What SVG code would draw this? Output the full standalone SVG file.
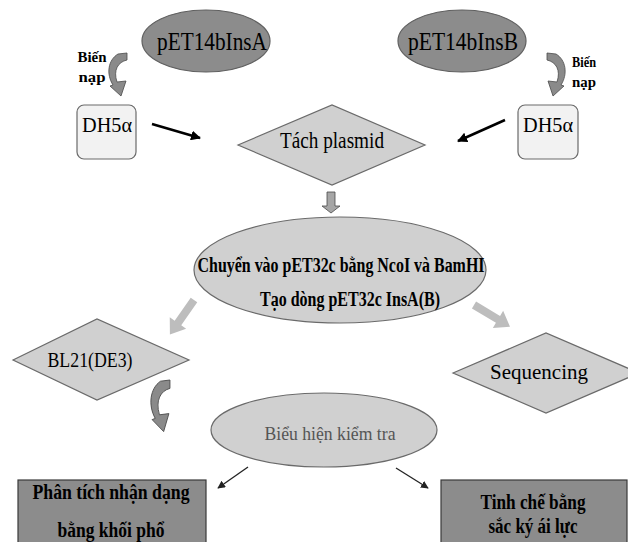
<svg xmlns="http://www.w3.org/2000/svg" width="628" height="542" viewBox="0 0 628 542" font-family="Liberation Serif, serif">
<style>
text{font-family:'Liberation Serif',serif;text-anchor:middle}
.b{font-weight:bold}
.dark{fill:#8c8c8c;stroke:#5f5f5f;stroke-width:1.2}
.lite{fill:#d0d0d0;stroke:#6a6a6a;stroke-width:1.2}
.box{fill:#f2f2f2;stroke:#6a6a6a;stroke-width:1.2}
.curve{fill:#8a8a8a;stroke:#4a4a4a;stroke-width:0.8}
.blk{stroke:#000;stroke-width:2.5;fill:none}
.thin{stroke:#222;stroke-width:1.3;fill:none}
.garrow{fill:#bdbdbd}
</style>
<defs>
<marker id="ah" viewBox="0 0 10 10" refX="9" refY="5" markerWidth="4" markerHeight="4" orient="auto"><path d="M0 0 L10 5 L0 10 Z" fill="#000"/></marker>
<marker id="ah2" viewBox="0 0 10 10" refX="9" refY="5" markerWidth="6" markerHeight="6" orient="auto"><path d="M0 0 L10 5 L0 10 Z" fill="#222"/></marker>
<path id="carrow" d="M118 54 L127 53 L127 60 C118 62 113 70 117 82 L126 81 L121 96 L110 86 L113 85 C106 74 108 60 118 54 Z"/>
</defs>

<g id="connectors">
<line class="blk" x1="152" y1="124" x2="200" y2="138" marker-end="url(#ah)"/>
<line class="blk" x1="505" y1="120" x2="458" y2="141" marker-end="url(#ah)"/>
<path d="M327 192 H335 V206 H340 L331 213 L322 206 H327 Z" fill="#a6a6a6" stroke="#4a4a4a" stroke-width="0.8"/>
<g transform="translate(194,300) rotate(125)"><path class="garrow" d="M0 -4 H28 V-10 L42 0 L28 10 V4 H0 Z"/></g>
<g transform="translate(474,305) rotate(31)"><path class="garrow" d="M0 -4 H28 V-10 L42 0 L28 10 V4 H0 Z"/></g>
<line class="thin" x1="248" y1="467" x2="218" y2="488" marker-end="url(#ah2)"/>
<line class="thin" x1="396" y1="468" x2="428" y2="488" marker-end="url(#ah2)"/>
<use href="#carrow" class="curve"/>
<use href="#carrow" class="curve" transform="translate(674,0) scale(-1,1)"/>
<use href="#carrow" class="curve" transform="translate(150,380) scale(1.05,1.2) translate(-108,-53)"/>
<text class="b" x="92" y="62" font-size="15" textLength="29" lengthAdjust="spacingAndGlyphs">Biến</text>
<text class="b" x="92" y="82" font-size="15" textLength="27" lengthAdjust="spacingAndGlyphs">nạp</text>
<text class="b" x="584" y="67" font-size="15" textLength="24" lengthAdjust="spacingAndGlyphs">Biến</text>
<text class="b" x="584" y="87" font-size="15" textLength="24" lengthAdjust="spacingAndGlyphs">nạp</text>
</g>

<g id="pET14bInsA">
<ellipse class="dark" cx="206" cy="41" rx="64" ry="31"/>
<text x="212" y="50" font-size="25" textLength="110" lengthAdjust="spacingAndGlyphs">pET14bInsA</text>
</g>
<g id="pET14bInsB">
<ellipse class="dark" cx="462" cy="41" rx="64" ry="31"/>
<text x="463" y="50" font-size="25" textLength="110" lengthAdjust="spacingAndGlyphs">pET14bInsB</text>
</g>
<g id="DH5a-left">
<rect class="box" x="77" y="105" width="59" height="54" rx="7"/>
<text x="107" y="132" font-size="22" textLength="50" lengthAdjust="spacingAndGlyphs">DH5α</text>
</g>
<g id="DH5a-right">
<rect class="box" x="518" y="105" width="60" height="54" rx="7"/>
<text x="548" y="132" font-size="22" textLength="50" lengthAdjust="spacingAndGlyphs">DH5α</text>
</g>
<g id="tach-plasmid">
<polygon class="lite" points="238,145 332,105 425,145 332,185"/>
<text x="332" y="148" font-size="23" textLength="104" lengthAdjust="spacingAndGlyphs">Tách plasmid</text>
</g>
<g id="chuyen-vao">
<ellipse class="lite" cx="340" cy="270" rx="146" ry="53" fill="#cccccc"/>
<text class="b" x="341" y="272" font-size="20" textLength="287" lengthAdjust="spacingAndGlyphs">Chuyển vào pET32c bằng NcoI và BamHI</text>
<text class="b" x="350" y="306" font-size="20" textLength="180" lengthAdjust="spacingAndGlyphs">Tạo dòng pET32c InsA(B)</text>
</g>
<g id="bl21">
<polygon class="lite" points="13,360 97,319 189,360 97,400"/>
<text x="90" y="367" font-size="22" textLength="85" lengthAdjust="spacingAndGlyphs">BL21(DE3)</text>
</g>
<g id="sequencing">
<polygon class="lite" points="453,373 546,333 639,373 546,413"/>
<text x="539" y="379" font-size="22" textLength="98" lengthAdjust="spacingAndGlyphs">Sequencing</text>
</g>
<g id="bieu-hien">
<ellipse class="lite" cx="324" cy="430" rx="113" ry="37" fill="#d6d6d6"/>
<text x="330" y="440" font-size="19" fill="#555" textLength="131" lengthAdjust="spacingAndGlyphs">Biểu hiện kiểm tra</text>
</g>
<g id="phan-tich">
<rect x="18" y="480" width="188" height="70" fill="#8c8c8c" stroke="#3a3a3a" stroke-width="1.2"/>
<text class="b" x="111" y="499" font-size="20" textLength="157" lengthAdjust="spacingAndGlyphs">Phân tích nhận dạng</text>
<text class="b" x="111" y="537" font-size="20" textLength="107" lengthAdjust="spacingAndGlyphs">bằng khối phổ</text>
</g>
<g id="tinh-che">
<rect x="441" y="480" width="186" height="70" fill="#8c8c8c" stroke="#3a3a3a" stroke-width="1.2"/>
<text class="b" x="533" y="509" font-size="20" textLength="105" lengthAdjust="spacingAndGlyphs">Tinh chế bằng</text>
<text class="b" x="533" y="533" font-size="20" textLength="89" lengthAdjust="spacingAndGlyphs">sắc ký ái lực</text>
</g>
</svg>
